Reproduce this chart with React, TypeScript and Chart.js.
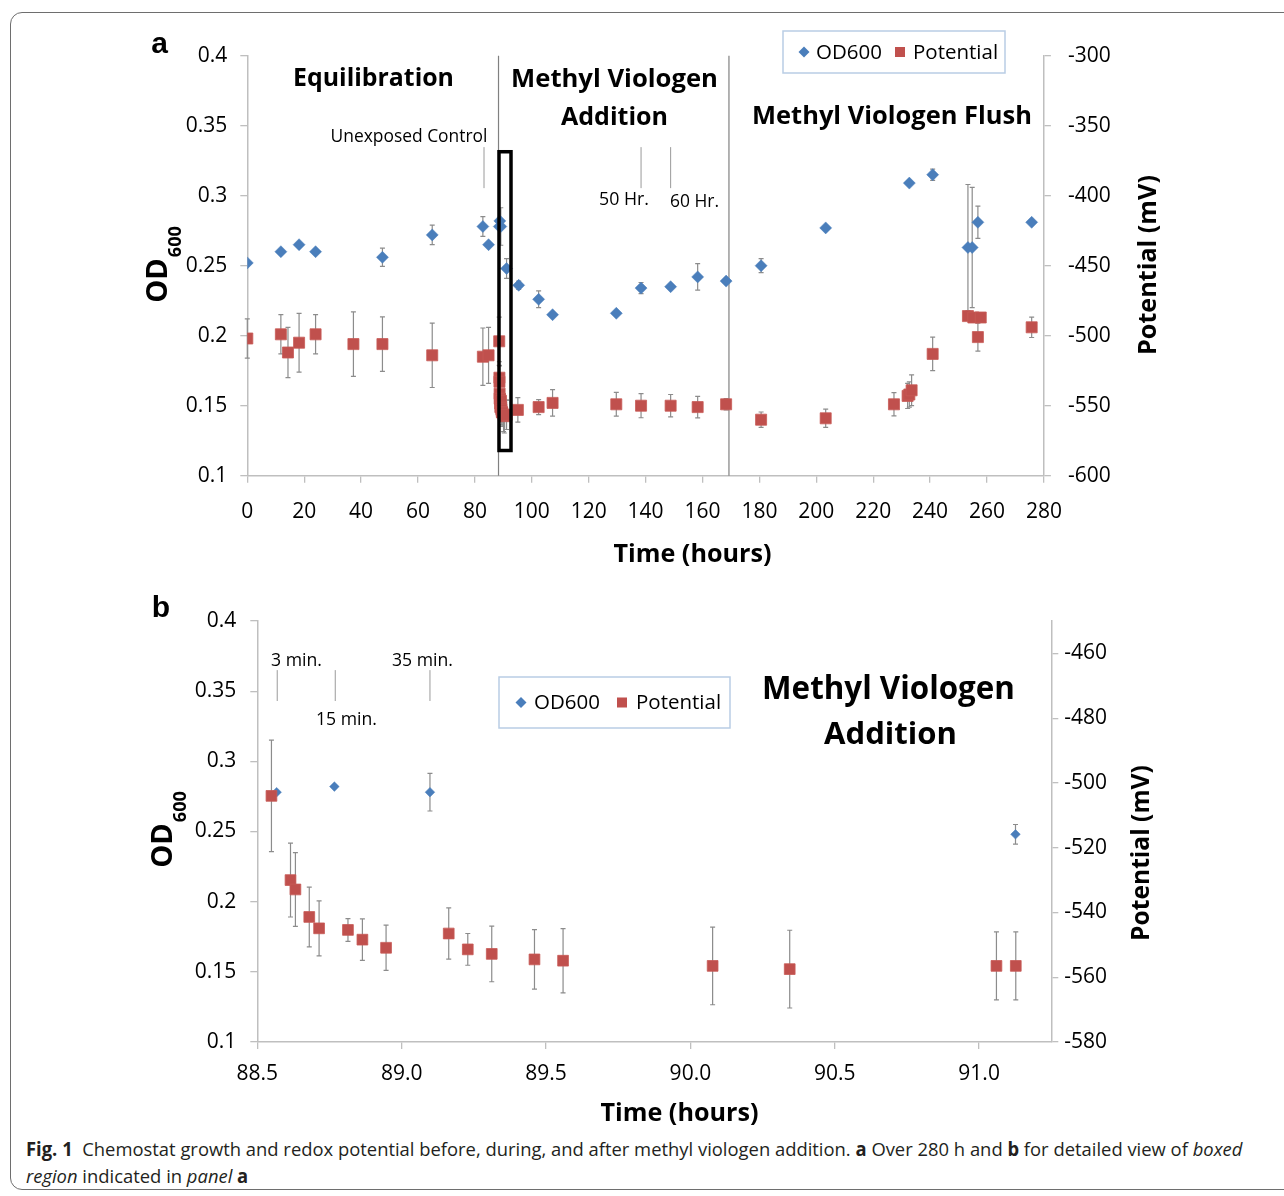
import React, { useEffect, useRef } from 'react';
import { Chart, registerables } from 'chart.js';

Chart.register(...registerables);

const FONT = '"Open Sans", "DejaVu Sans", sans-serif';
const LETTER_FONT = '"Liberation Sans", Arial, sans-serif';
const BLUE = '#4A7EBB';
const RED = '#C0504D';
const AXIS_GRAY = '#BFBFBF';
const ERR_GRAY = '#8C8C8C';
const LINE_GRAY = '#808080';

// ---------- Panel a: whole run (hours) ----------
const A_OD_TIME = [0, 11.8, 18.2, 24.0, 47.5, 65.0, 82.8, 84.8, 95.4, 102.4, 107.3, 129.7, 138.4, 148.8, 158.3, 168.3, 180.6, 203.3, 232.7, 240.9, 253.3, 254.8, 256.8, 275.7];
const A_OD_VALUE = [0.252, 0.260, 0.265, 0.260, 0.256, 0.272, 0.278, 0.265, 0.236, 0.226, 0.215, 0.216, 0.234, 0.235, 0.242, 0.239, 0.250, 0.277, 0.309, 0.315, 0.263, 0.263, 0.281, 0.281];
const A_OD_ERR = [0, 0, 0, 0, 0.0065, 0.007, 0.007, 0, 0.003, 0.006, 0, 0, 0.004, 0, 0.0095, 0, 0.005, 0, 0, 0.004, 0.045, 0.043, 0.0115, 0];

const A_POT_TIME = [0, 11.8, 14.3, 18.2, 24.0, 37.3, 47.5, 65.0, 82.8, 84.8, 95.1, 102.4, 107.3, 129.7, 138.4, 148.8, 158.3, 168.3, 180.6, 203.3, 227.3, 232.1, 232.7, 233.5, 240.9, 253.3, 255.2, 256.8, 257.8, 275.7];
const A_POT_VALUE = [-502, -499, -512, -505, -499, -506, -506, -514, -515, -514, -553, -551, -548, -549, -550, -550, -551, -549, -560, -559, -549, -543, -542, -539, -513, -486, -487, -501, -487, -494];
const A_POT_ERR = [14, 14, 18, 21, 14, 23, 19.5, 23, 20.5, 20, 8.7, 5.4, 9.5, 8.5, 8.6, 8, 7.7, 4, 5.5, 6.5, 8.3, 9, 9, 11, 12, 3, 3, 10, 3, 7.3];

// ---------- Panel b: boxed region (hours) ----------
const B_OD_TIME = [88.567, 88.767, 89.098, 91.126];
const B_OD_VALUE = [0.278, 0.282, 0.278, 0.248];
const B_OD_ERR = [0, 0, 0.0134, 0.007];

const B_POT_TIME = [88.549, 88.615, 88.632, 88.680, 88.714, 88.814, 88.864, 88.946, 89.163, 89.229, 89.312, 89.460, 89.559, 90.077, 90.344, 91.060, 91.127];
const B_POT_VALUE = [-504.0, -530.0, -532.9, -541.4, -544.9, -545.4, -548.4, -550.9, -546.5, -551.4, -552.8, -554.5, -554.9, -556.5, -557.5, -556.5, -556.5];
const B_POT_ERR = [17.2, 11.4, 11.4, 9.2, 8.5, 3.5, 6.4, 7.0, 7.9, 4.9, 8.6, 9.2, 9.9, 12.0, 12.0, 10.5, 10.5];

// axis ranges [min, max, step]
const A_X_RANGE = [0, 280, 20];
const A_OD_RANGE = [0.1, 0.4, 0.05];
const A_POT_RANGE = [-600, -300, 50];
const B_X_RANGE = [88.5, 91.25, 0.5];
const B_OD_RANGE = [0.1, 0.4, 0.05];
const B_POT_RANGE = [-580, -450, 20];

// annotations (data coordinates)
const A_PHASE_BOUNDS = [88.3, 169.3];
const A_MARK_LINES = [83.2, 138.4, 148.8];
const A_MARK_OD = [0.3347, 0.3054];
const A_BOX = { t1: 88.47, t2: 92.69, od1: 0.3314, od2: 0.118 };
const B_MARK_LINES = [88.569, 88.77, 89.098];
const B_MARK_OD = [0.365, 0.343];

const B_TOP = 590; // page offset of panel b canvas

type Lbl = { text: string; cx: number; cy: number; w: number; bold?: boolean; rot?: boolean };

const A_LABELS: Lbl[] = [
  { text: 'Equilibration', cx: 373.5, cy: 79, w: 161, bold: true },
  { text: 'Methyl Viologen', cx: 614.5, cy: 80, w: 207, bold: true },
  { text: 'Addition', cx: 614.5, cy: 118, w: 107, bold: true },
  { text: 'Methyl Viologen Flush', cx: 892, cy: 117, w: 280, bold: true },
  { text: 'Unexposed Control', cx: 409, cy: 137.5, w: 157 },
  { text: '50 Hr.', cx: 624, cy: 199.5, w: 50 },
  { text: '60 Hr.', cx: 694.5, cy: 202.5, w: 49 },
  { text: 'Time (hours)', cx: 692.5, cy: 555, w: 158, bold: true },
  { text: 'Potential (mV)', cx: 1149, cy: 265, w: 180, bold: true, rot: true },
];

const B_LABELS: Lbl[] = [
  { text: '3 min.', cx: 296.5, cy: 660.5, w: 51 },
  { text: '15 min.', cx: 346.5, cy: 719.5, w: 61 },
  { text: '35 min.', cx: 422.5, cy: 660.5, w: 61 },
  { text: 'Methyl Viologen', cx: 888.5, cy: 690, w: 253, bold: true },
  { text: 'Addition', cx: 890.5, cy: 735, w: 133, bold: true },
  { text: 'Time (hours)', cx: 679.5, cy: 1114, w: 158, bold: true },
  { text: 'Potential (mV)', cx: 1142, cy: 853, w: 176, bold: true, rot: true },
];

function pts(xs: number[], ys: number[]) {
  return xs.map((x, i) => ({ x, y: ys[i] }));
}

function fitText(ctx: CanvasRenderingContext2D, l: Lbl, dy: number) {
  ctx.save();
  const wt = l.bold ? 'bold' : 'normal';
  ctx.font = `${wt} 100px ${FONT}`;
  const size = (100 * l.w) / ctx.measureText(l.text).width;
  ctx.font = `${wt} ${size}px ${FONT}`;
  ctx.fillStyle = '#000';
  ctx.textAlign = 'center';
  ctx.textBaseline = 'middle';
  ctx.translate(l.cx, l.cy - dy);
  if (l.rot) ctx.rotate(-Math.PI / 2);
  ctx.fillText(l.text, 0, 0);
  ctx.restore();
}

function drawOD(ctx: CanvasRenderingContext2D, bx: number, cy: number) {
  ctx.save();
  ctx.translate(bx, cy);
  ctx.rotate(-Math.PI / 2);
  ctx.fillStyle = '#000';
  ctx.textBaseline = 'alphabetic';
  ctx.textAlign = 'left';
  const f1 = `bold 29px ${FONT}`;
  const f2 = `bold 18px ${FONT}`;
  ctx.font = f1;
  const w1 = ctx.measureText('OD').width;
  ctx.font = f2;
  const w2 = ctx.measureText('600').width;
  const x0 = -(w1 + w2) / 2;
  ctx.font = f1;
  ctx.fillText('OD', x0, 0);
  ctx.font = f2;
  ctx.fillText('600', x0 + w1 + 1, 14);
  ctx.restore();
}

function drawLetter(ctx: CanvasRenderingContext2D, s: string, cx: number, cy: number) {
  ctx.save();
  ctx.font = `bold 30px ${LETTER_FONT}`;
  ctx.fillStyle = '#000';
  ctx.textAlign = 'center';
  ctx.textBaseline = 'middle';
  ctx.fillText(s, cx, cy);
  ctx.restore();
}

function drawLegend(ctx: CanvasRenderingContext2D, bx: number, by: number, bw: number, bh: number,
  dx: number, odLeft: number, sx: number, potLeft: number) {
  ctx.save();
  ctx.fillStyle = '#fff';
  ctx.fillRect(bx, by, bw, bh);
  ctx.strokeStyle = '#B9CDE5';
  ctx.lineWidth = 1.5;
  ctx.strokeRect(bx, by, bw, bh);
  const cy = by + bh / 2;
  ctx.fillStyle = BLUE;
  ctx.beginPath();
  ctx.moveTo(dx, cy - 5.5);
  ctx.lineTo(dx + 5.5, cy);
  ctx.lineTo(dx, cy + 5.5);
  ctx.lineTo(dx - 5.5, cy);
  ctx.closePath();
  ctx.fill();
  ctx.fillStyle = RED;
  ctx.fillRect(sx - 5, cy - 5, 10, 10);
  ctx.fillStyle = '#000';
  ctx.font = `normal 100px ${FONT}`;
  const size = (100 * 66) / ctx.measureText('OD600').width;
  ctx.font = `normal ${size}px ${FONT}`;
  ctx.textAlign = 'left';
  ctx.textBaseline = 'middle';
  ctx.fillText('OD600', odLeft, cy + 1);
  ctx.fillText('Potential', potLeft, cy + 1);
  ctx.restore();
}

const errorBars = {
  id: 'errorBars',
  beforeDatasetsDraw(chart: any) {
    const ctx: CanvasRenderingContext2D = chart.ctx;
    chart.data.datasets.forEach((ds: any, i: number) => {
      const meta = chart.getDatasetMeta(i);
      const ys = chart.scales[ds.yAxisID];
      const errs: number[] = ds.errors || [];
      ctx.save();
      ctx.strokeStyle = ERR_GRAY;
      ctx.lineWidth = 1.2;
      meta.data.forEach((pt: any, j: number) => {
        const e = errs[j];
        if (!e) return;
        const v = ds.data[j].y;
        const y1 = ys.getPixelForValue(v + e);
        const y2 = ys.getPixelForValue(v - e);
        const x = pt.x;
        ctx.beginPath();
        ctx.moveTo(x, y1);
        ctx.lineTo(x, y2);
        ctx.moveTo(x - 2.5, y1);
        ctx.lineTo(x + 2.5, y1);
        ctx.moveTo(x - 2.5, y2);
        ctx.lineTo(x + 2.5, y2);
        ctx.stroke();
      });
      ctx.restore();
    });
  },
};

function vline(ctx: CanvasRenderingContext2D, x: number, y1: number, y2: number) {
  ctx.beginPath();
  ctx.moveTo(x, y1);
  ctx.lineTo(x, y2);
  ctx.stroke();
}

const annotA = {
  id: 'annotA',
  beforeDatasetsDraw(chart: any) {
    const { ctx, chartArea: ca, scales } = chart;
    const x = scales.x;
    const y = scales.y;
    ctx.save();
    ctx.strokeStyle = LINE_GRAY;
    ctx.lineWidth = 1.2;
    A_PHASE_BOUNDS.forEach((t) => vline(ctx, x.getPixelForValue(t), ca.top, ca.bottom));
    ctx.strokeStyle = '#9A9A9A';
    ctx.lineWidth = 1;
    A_MARK_LINES.forEach((t) =>
      vline(ctx, x.getPixelForValue(t), y.getPixelForValue(A_MARK_OD[0]), y.getPixelForValue(A_MARK_OD[1])));
    ctx.restore();
  },
  afterDatasetsDraw(chart: any) {
    const { ctx, scales } = chart;
    const x = scales.x;
    const y = scales.y;
    ctx.save();
    ctx.strokeStyle = '#000';
    ctx.lineWidth = 3.5;
    const x1 = x.getPixelForValue(A_BOX.t1);
    const x2 = x.getPixelForValue(A_BOX.t2);
    const y1 = y.getPixelForValue(A_BOX.od1);
    const y2 = y.getPixelForValue(A_BOX.od2);
    ctx.strokeRect(x1, y1, x2 - x1, y2 - y1);
    ctx.restore();
  },
  afterDraw(chart: any) {
    const ctx = chart.ctx;
    A_LABELS.forEach((l) => fitText(ctx, l, 0));
    drawOD(ctx, 167, 265);
    drawLetter(ctx, 'a', 159.5, 45);
    drawLegend(ctx, 783, 31, 222, 42, 804, 816, 900, 913);
  },
};

const annotB = {
  id: 'annotB',
  beforeDatasetsDraw(chart: any) {
    const { ctx, scales } = chart;
    const x = scales.x;
    const y = scales.y;
    ctx.save();
    ctx.strokeStyle = '#9A9A9A';
    ctx.lineWidth = 1;
    B_MARK_LINES.forEach((t) =>
      vline(ctx, x.getPixelForValue(t), y.getPixelForValue(B_MARK_OD[0]), y.getPixelForValue(B_MARK_OD[1])));
    ctx.restore();
  },
  afterDraw(chart: any) {
    const ctx = chart.ctx;
    B_LABELS.forEach((l) => fitText(ctx, l, B_TOP));
    drawOD(ctx, 172, 830 - B_TOP);
    drawLetter(ctx, 'b', 161, 609 - B_TOP);
    drawLegend(ctx, 499, 677 - B_TOP, 231, 51, 521, 534, 622, 636);
  },
};

const tickFont = { family: FONT, size: 21 };

function axis(range: number[], extra: any) {
  return {
    type: 'linear',
    min: range[0],
    max: range[1],
    grid: { drawOnChartArea: false, drawTicks: true, tickLength: 7, color: AXIS_GRAY, lineWidth: 1.3 },
    border: { color: AXIS_GRAY, width: 1.5 },
    ...extra,
    ticks: { color: '#000', font: tickFont, stepSize: range[2], includeBounds: false, maxRotation: 0, autoSkip: false, ...extra.ticks },
  };
}

function datasets(odT: number[], odV: number[], odE: number[], pT: number[], pV: number[], pE: number[], dR: number, sR: number) {
  return [
    {
      label: 'OD600', data: pts(odT, odV), errors: odE, yAxisID: 'y', order: 2,
      pointStyle: 'rectRot', pointRadius: dR, pointBackgroundColor: BLUE, pointBorderColor: BLUE,
      pointBorderWidth: 0.5, backgroundColor: BLUE, borderColor: BLUE, showLine: false,
    },
    {
      label: 'Potential', data: pts(pT, pV), errors: pE, yAxisID: 'y2', order: 1,
      pointStyle: 'rect', pointRadius: sR, pointBackgroundColor: RED, pointBorderColor: '#C85A57',
      pointBorderWidth: 0.8, backgroundColor: RED, borderColor: RED, showLine: false,
    },
  ];
}

const odFmt = (v: any) => String(+Number(v).toFixed(2));
const potFmt = (v: any) => String(Math.round(Number(v)));

function configA(): any {
  return {
    type: 'scatter',
    data: {
      datasets: datasets(
        [...A_OD_TIME, ...B_OD_TIME], [...A_OD_VALUE, ...B_OD_VALUE], [...A_OD_ERR, ...B_OD_ERR],
        [...A_POT_TIME, ...B_POT_TIME], [...A_POT_VALUE, ...B_POT_VALUE], [...A_POT_ERR, ...B_POT_ERR],
        6, 7.8),
    },
    options: {
      responsive: false,
      animation: false,
      events: [],
      layout: { padding: { top: 55.7, left: 0, right: 0, bottom: 0 } },
      plugins: { legend: { display: false }, tooltip: { enabled: false } },
      scales: {
        x: axis(A_X_RANGE, { position: 'bottom', ticks: { padding: 17 }, afterFit: (s: any) => { s.height = 114.3; } }),
        y: axis(A_OD_RANGE, { position: 'left', ticks: { padding: 13, callback: odFmt }, afterFit: (s: any) => { s.width = 247.3; } }),
        y2: axis(A_POT_RANGE, { position: 'right', ticks: { padding: 17, callback: potFmt }, afterFit: (s: any) => { s.width = 240.1; } }),
      },
    },
    plugins: [errorBars, annotA],
  };
}

function configB(): any {
  return {
    type: 'scatter',
    data: {
      datasets: datasets(B_OD_TIME, B_OD_VALUE, B_OD_ERR, B_POT_TIME, B_POT_VALUE, B_POT_ERR, 4.8, 7.6),
    },
    options: {
      responsive: false,
      animation: false,
      events: [],
      layout: { padding: { top: 31, left: 0, right: 0, bottom: 0 } },
      plugins: { legend: { display: false }, tooltip: { enabled: false } },
      scales: {
        x: axis(B_X_RANGE, { position: 'bottom', ticks: { padding: 12, callback: (v: any) => Number(v).toFixed(1) }, afterFit: (s: any) => { s.height = 88; } }),
        y: axis(B_OD_RANGE, { position: 'left', ticks: { padding: 14, callback: odFmt }, afterFit: (s: any) => { s.width = 257.3; } }),
        y2: axis(B_POT_RANGE, { position: 'right', ticks: { padding: 6, callback: potFmt }, afterFit: (s: any) => { s.width = 232.7; } }),
      },
    },
    plugins: [errorBars, annotB],
  };
}

export default function App() {
  const refA = useRef<HTMLCanvasElement>(null);
  const refB = useRef<HTMLCanvasElement>(null);
  const capRef = useRef<HTMLDivElement>(null);
  const line1Ref = useRef<HTMLSpanElement>(null);

  useEffect(() => {
    const a = new Chart(refA.current as HTMLCanvasElement, configA());
    const b = new Chart(refB.current as HTMLCanvasElement, configB());
    return () => {
      a.destroy();
      b.destroy();
    };
  }, []);

  useEffect(() => {
    const cap = capRef.current;
    const l1 = line1Ref.current;
    if (cap && l1) {
      const w = l1.offsetWidth;
      if (w) cap.style.transform = `scaleX(${1216 / w})`;
    }
  }, []);

  return (
    <div style={{ position: 'absolute', left: 0, top: 0, width: 1284, height: 1196, overflow: 'hidden', background: '#fff' }}>
      <div style={{ position: 'absolute', left: 10, top: 12, width: 1300, height: 1178, border: '1.5px solid #6e6e6e', borderRadius: 12, boxSizing: 'border-box' }} />
      <canvas ref={refA} width={1284} height={590} style={{ position: 'absolute', left: 0, top: 0, display: 'block' }} />
      <canvas ref={refB} width={1284} height={540} style={{ position: 'absolute', left: 0, top: B_TOP, display: 'block' }} />
      <div
        ref={capRef}
        style={{ position: 'absolute', left: 26, top: 1136, transformOrigin: '0 0', fontFamily: FONT, fontSize: 19, lineHeight: '27px', color: '#231F20', whiteSpace: 'nowrap' }}
      >
        <span ref={line1Ref} style={{ display: 'inline-block' }}>
          <b>Fig. 1</b>{'\u00a0\u00a0'}Chemostat growth and redox potential before, during, and after methyl viologen addition. <b>a</b> Over 280 h and <b>b</b> for detailed view of <i>boxed</i>
        </span>
        <br />
        <span style={{ display: 'inline-block' }}>
          <i>region</i> indicated in <i>panel</i> <b>a</b>
        </span>
      </div>
    </div>
  );
}
